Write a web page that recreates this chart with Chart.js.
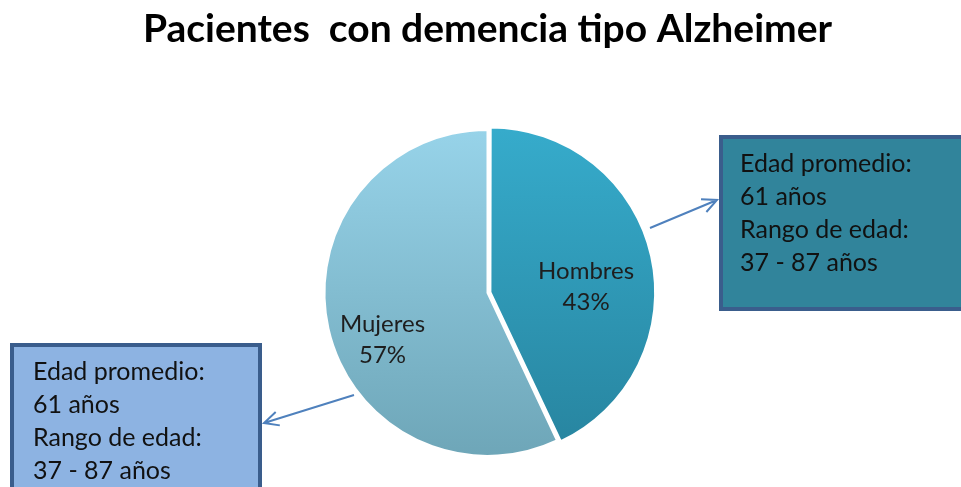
<!DOCTYPE html>
<html>
<head>
<meta charset="utf-8">
<script src="https://cdn.jsdelivr.net/npm/chart.js@4"></script>
<style>
  html, body { margin: 0; padding: 0; background: #fff; }
  #wrap { width: 961px; height: 487px; position: relative; }
</style>
</head>
<body>
<div id="wrap"><canvas id="pieChart" width="961" height="487"></canvas></div>
<script>
// Chart data
const categories = ['Hombres', 'Mujeres'];
const percentValues = [43, 57];
const sliceOffsets = [12, 0]; // v4 draws offset / 4 -> small explode
const colorsTop = ['#36abcb', '#97d3e9'];
const colorsBottom = ['#27849f', '#6ea6b8'];

// Callout box texts
const hombresInfo = ['Edad promedio:', '61 años', 'Rango de edad:', '37 - 87 años'];
const mujeresInfo = ['Edad promedio:', '61 años', 'Rango de edad:', '37 - 87 años'];

const PIE_RADIUS = 163;

function sliceGradient(context) {
  const chart = context.chart;
  const area = chart.chartArea;
  const i = context.dataIndex;
  if (!area) return colorsTop[i];
  const cy = (area.top + area.bottom) / 2;
  const g = chart.ctx.createLinearGradient(0, cy - PIE_RADIUS, 0, cy + PIE_RADIUS);
  g.addColorStop(0, colorsTop[i]);
  g.addColorStop(1, colorsBottom[i]);
  return g;
}

// Draws category + percentage labels inside each slice
const sliceLabels = {
  id: 'sliceLabels',
  afterDatasetsDraw(chart) {
    const ctx = chart.ctx;
    const meta = chart.getDatasetMeta(0);
    const nudgeY = [16, 24];
    ctx.save();
    ctx.font = '24px Lato, "Open Sans", sans-serif';
    ctx.fillStyle = '#1e1e1e';
    ctx.textAlign = 'center';
    ctx.textBaseline = 'middle';
    meta.data.forEach((arc, i) => {
      const p = arc.getProps(['x', 'y', 'startAngle', 'endAngle', 'outerRadius']);
      const mid = (p.startAngle + p.endAngle) / 2;
      const k = i === 0 ? 0.62 : 0.66;
      const lx = p.x + Math.cos(mid) * p.outerRadius * k;
      const ly = p.y + Math.sin(mid) * p.outerRadius * k + nudgeY[i];
      ctx.fillText(categories[i], lx, ly - 16);
      ctx.fillText(percentValues[i] + '%', lx, ly + 15);
    });
    ctx.restore();
  }
};

// Draws the two info boxes and their arrows
const calloutBoxes = {
  id: 'calloutBoxes',
  afterDraw(chart) {
    const ctx = chart.ctx;
    function box(x, y, w, h, fill, lines, tx, ty) {
      ctx.fillStyle = fill;
      ctx.fillRect(x, y, w, h);
      ctx.strokeStyle = '#3a5d8c';
      ctx.lineWidth = 4;
      ctx.strokeRect(x, y, w, h);
      ctx.fillStyle = '#111';
      ctx.font = '25px Lato, "Open Sans", sans-serif';
      ctx.textAlign = 'left';
      ctx.textBaseline = 'middle';
      lines.forEach((t, i) => ctx.fillText(t, tx, ty + i * 33));
    }
    function arrow(x1, y1, x2, y2) {
      ctx.strokeStyle = '#4f81bd';
      ctx.lineWidth = 2;
      ctx.beginPath();
      ctx.moveTo(x1, y1);
      ctx.lineTo(x2, y2);
      const a = Math.atan2(y2 - y1, x2 - x1);
      const s = 16;
      ctx.moveTo(x2 - s * Math.cos(a - 0.45), y2 - s * Math.sin(a - 0.45));
      ctx.lineTo(x2, y2);
      ctx.lineTo(x2 - s * Math.cos(a + 0.45), y2 - s * Math.sin(a + 0.45));
      ctx.stroke();
    }
    ctx.save();
    box(721, 137, 250, 172, '#31849b', hombresInfo, 740, 164);
    box(12, 345, 248, 160, '#8db3e2', mujeresInfo, 33, 372);
    arrow(650, 228, 717, 200);
    arrow(354, 395, 264, 423);
    ctx.restore();
  }
};

const ctx = document.getElementById('pieChart').getContext('2d');
const pieChart = new Chart(ctx, {
  type: 'pie',
  data: {
    labels: categories,
    datasets: [{
      data: percentValues,
      backgroundColor: sliceGradient,
      borderColor: '#ffffff',
      borderWidth: 2,
      offset: sliceOffsets
    }]
  },
  options: {
    responsive: false,
    animation: false,
    radius: PIE_RADIUS,
    layout: {
      padding: { top: 0, bottom: 4, left: 14, right: 0 }
    },
    plugins: {
      title: {
        display: true,
        text: 'Pacientes  con demencia tipo Alzheimer',
        color: '#000',
        font: { family: 'Lato, "Open Sans", sans-serif', size: 39, weight: 'bold' },
        padding: { top: 6, bottom: 50 }
      },
      legend: { display: false },
      tooltip: { enabled: false }
    }
  },
  plugins: [sliceLabels, calloutBoxes]
});
</script>
</body>
</html>
